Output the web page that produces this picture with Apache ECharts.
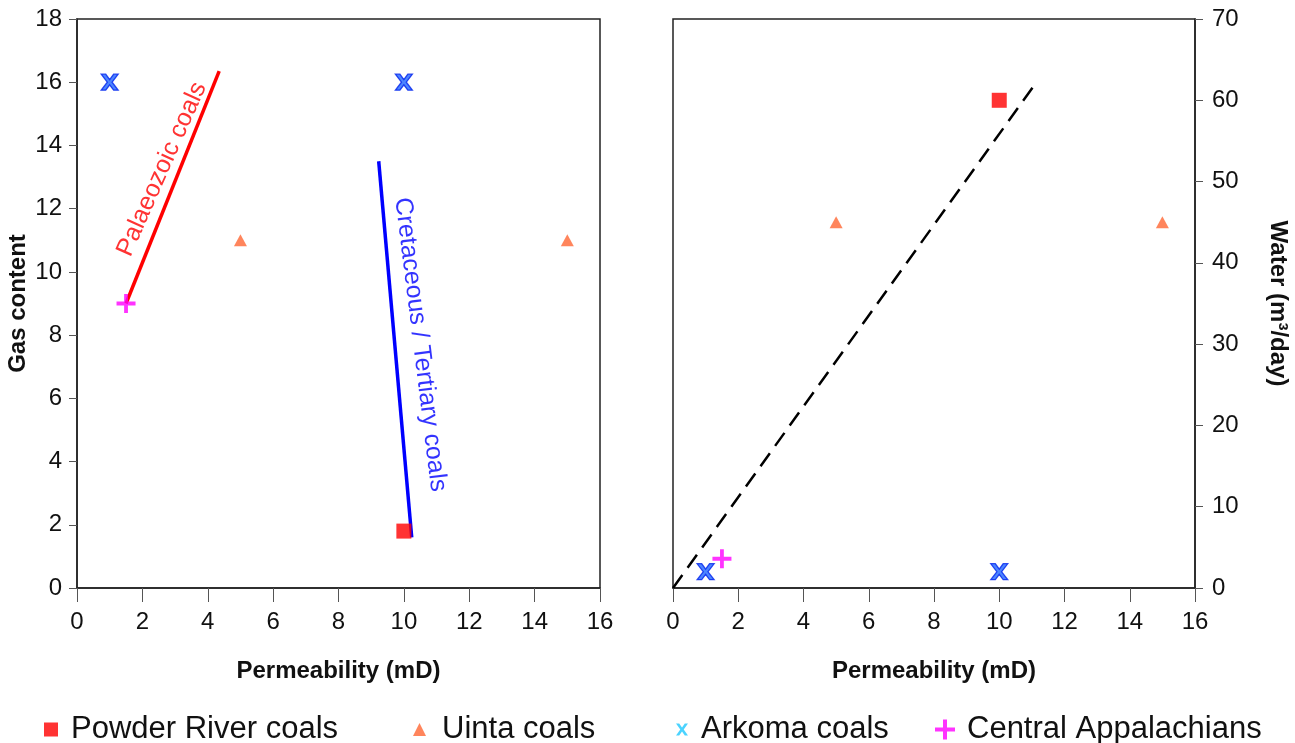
<!DOCTYPE html>
<html><head><meta charset="utf-8">
<script src="https://cdn.jsdelivr.net/npm/echarts@6/dist/echarts.min.js"></script>
<style>html,body{margin:0;padding:0;background:#fff}#c{width:1295px;height:743px}</style>
</head><body><div id="c"></div>
<script>
// ---- data ----
const powderLeft = [[10, 1.8]];
const uintaLeft = [[5, 11], [15, 11]];
const arkomaLeft = [[1, 16], [10, 16]];
const appalLeft = [[1.5, 9]];
const palaeozoicLine = [[1.5, 9], [4.35, 16.35]];
const cretaceousLine = [[9.23, 13.5], [10.24, 1.6]];

const powderRight = [[10, 60]];
const uintaRight = [[5, 45], [15, 45]];
const arkomaRight = [[1, 2], [10, 2]];
const appalRight = [[1.5, 3.6]];
const waterTrend = [[0, 0], [11.1, 62]];

const palaeoLabel = [[2.6, 13.25]];
const cretLabel = [[10.5, 7.7]];

const FONT = '"Liberation Sans", Arial, sans-serif';
const X_PATH = 'path://M0,0 L3.2,0 L6,4 L8.8,0 L12,0 L7.7,6 L12,12 L8.8,12 L6,8 L3.2,12 L0,12 L4.3,6 Z';
const PLUS_PATH = 'path://M4,0 L6,0 L6,4 L10,4 L10,6 L6,6 L6,10 L4,10 L4,6 L0,6 L0,4 L4,4 Z';

function axis(extra) {
  const base = {
    type: 'value',
    axisLine: {show: true, onZero: false, lineStyle: {color: '#222', width: 1.5}},
    axisTick: {show: true, inside: false, length: 8, lineStyle: {color: '#555', width: 1}},
    axisLabel: {color: '#111', fontSize: 24, fontFamily: FONT, margin: 15},
    splitLine: {show: false},
    nameLocation: 'middle',
    nameTextStyle: {color: '#111', fontSize: 24, fontWeight: 'bold', fontFamily: FONT}
  };
  const o = Object.assign({}, base, extra);
  if (extra.tickLen) { o.axisTick = Object.assign({}, base.axisTick, {length: extra.tickLen}); }
  if (extra.labelMargin) { o.axisLabel = Object.assign({}, base.axisLabel, {margin: extra.labelMargin}); }
  return o;
}

function legendText(pad) { return {fontSize: 31, fontFamily: FONT, color: '#111', padding: [0, 0, 0, pad]}; }

const chart = echarts.init(document.getElementById('c'));
const option = {
  backgroundColor: '#fff',
  animation: false,
  grid: [
    {left: 77, width: 523, top: 19, height: 569, show: true, borderColor: '#222', borderWidth: 1.5, backgroundColor: 'transparent'},
    {left: 673, width: 522, top: 19, height: 569, show: true, borderColor: '#222', borderWidth: 1.5, backgroundColor: 'transparent'}
  ],
  xAxis: [
    axis({gridIndex: 0, min: 0, max: 16, interval: 2, name: 'Permeability (mD)', nameGap: 71, tickLen: 14, labelMargin: 22}),
    axis({gridIndex: 1, min: 0, max: 16, interval: 2, name: 'Permeability (mD)', nameGap: 71, tickLen: 14, labelMargin: 22})
  ],
  yAxis: [
    axis({gridIndex: 0, min: 0, max: 18, interval: 2, name: 'Gas content', nameRotate: 90, nameGap: 47}),
    axis({gridIndex: 1, min: 0, max: 70, interval: 10, position: 'right', name: 'Water (m³/day)', nameRotate: -90, nameGap: 71, labelMargin: 17})
  ],
  legend: [
    {left: 39, top: 709, itemWidth: 14, itemHeight: 14, textStyle: legendText(8),
      data: [{name: 'Powder River coals', icon: 'rect'}]},
    {left: 408, top: 709, itemWidth: 13, itemHeight: 13, textStyle: legendText(11),
      data: [{name: 'Uinta coals', icon: 'triangle'}]},
    {left: 671, top: 709, itemWidth: 12, itemHeight: 13, textStyle: legendText(8),
      data: [{name: 'Arkoma coals', icon: X_PATH, itemStyle: {color: '#1ec8ff', borderWidth: 0}}]},
    {left: 930, top: 709, itemWidth: 20, itemHeight: 20, textStyle: legendText(7),
      data: [{name: 'Central Appalachians', icon: PLUS_PATH}]}
  ],
  series: [
    {type: 'line', xAxisIndex: 0, yAxisIndex: 0, data: palaeozoicLine, symbol: 'none', lineStyle: {color: '#ff0000', width: 3.5}, z: 2, silent: true},
    {type: 'line', xAxisIndex: 0, yAxisIndex: 0, data: cretaceousLine, symbol: 'none', lineStyle: {color: '#0000ff', width: 3.5}, z: 2, silent: true},
    {type: 'line', xAxisIndex: 1, yAxisIndex: 1, data: waterTrend, symbol: 'none', lineStyle: {color: '#000', width: 2.5, type: [16, 9]}, z: 2, silent: true},

    {name: 'Powder River coals', type: 'scatter', xAxisIndex: 0, yAxisIndex: 0, data: powderLeft, symbol: 'rect', symbolSize: 15, itemStyle: {color: '#ff0000'}, z: 3},
    {name: 'Powder River coals', type: 'scatter', xAxisIndex: 1, yAxisIndex: 1, data: powderRight, symbol: 'rect', symbolSize: 15, itemStyle: {color: '#ff0000'}, z: 3},
    {name: 'Uinta coals', type: 'scatter', xAxisIndex: 0, yAxisIndex: 0, data: uintaLeft, symbol: 'triangle', symbolSize: [13, 12], itemStyle: {color: '#ff6633'}, z: 3},
    {name: 'Uinta coals', type: 'scatter', xAxisIndex: 1, yAxisIndex: 1, data: uintaRight, symbol: 'triangle', symbolSize: [13, 12], itemStyle: {color: '#ff6633'}, z: 3},
    {name: 'Arkoma coals', type: 'scatter', xAxisIndex: 0, yAxisIndex: 0, data: arkomaLeft, symbol: X_PATH, symbolSize: [17, 16], itemStyle: {color: '#1f66ff', borderColor: '#0022ee', borderWidth: 1.3}, z: 3},
    {name: 'Arkoma coals', type: 'scatter', xAxisIndex: 1, yAxisIndex: 1, data: arkomaRight, symbol: X_PATH, symbolSize: [17, 16], itemStyle: {color: '#1f66ff', borderColor: '#0022ee', borderWidth: 1.3}, z: 3},
    {name: 'Central Appalachians', type: 'scatter', xAxisIndex: 0, yAxisIndex: 0, data: appalLeft, symbol: PLUS_PATH, symbolSize: 19, itemStyle: {color: '#ff00ff'}, z: 4},
    {name: 'Central Appalachians', type: 'scatter', xAxisIndex: 1, yAxisIndex: 1, data: appalRight, symbol: PLUS_PATH, symbolSize: 19, itemStyle: {color: '#ff00ff'}, z: 4},

    {type: 'scatter', xAxisIndex: 0, yAxisIndex: 0, data: palaeoLabel, symbolSize: 0, silent: true,
      label: {show: true, position: 'inside', formatter: 'Palaeozoic coals', rotate: 66, color: '#ff0000', fontSize: 25, fontFamily: FONT}},
    {type: 'scatter', xAxisIndex: 0, yAxisIndex: 0, data: cretLabel, symbolSize: 0, silent: true,
      label: {show: true, position: 'inside', formatter: 'Cretaceous / Tertiary coals', rotate: -83, color: '#0000ff', fontSize: 25, fontFamily: FONT}}
  ]
};
chart.setOption(option);
</script></body></html>
